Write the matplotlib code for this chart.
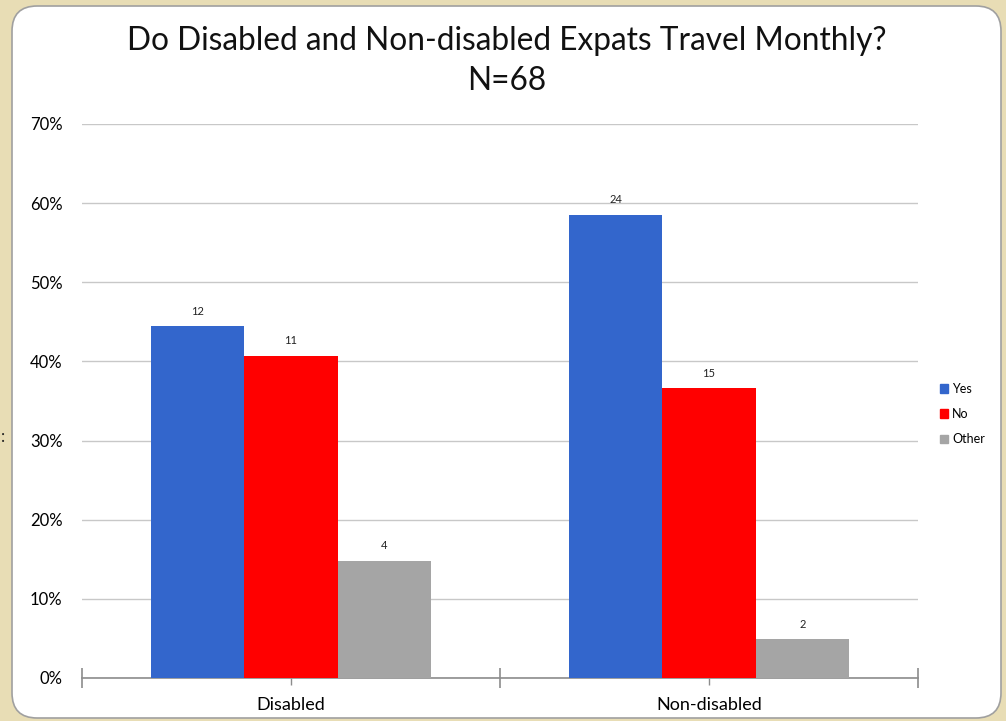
import matplotlib
matplotlib.use("Agg")
import matplotlib.pyplot as plt
from matplotlib.patches import FancyBboxPatch, Rectangle
from matplotlib.ticker import FixedLocator, FixedFormatter

plt.rcParams['font.family'] = ['Lato', 'DejaVu Sans']

groups = ["Disabled", "Non-disabled"]
series = ["Yes", "No", "Other"]
counts = {
    "Yes": [12, 24],
    "No": [11, 15],
    "Other": [4, 2],
}
group_totals = [27, 41]
colors = {"Yes": "#3366CC", "No": "#FF0000", "Other": "#A5A5A5"}
yticks = [0, 10, 20, 30, 40, 50, 60, 70]

fig = plt.figure(figsize=(10.06, 7.21), dpi=100)
fig.patch.set_facecolor("#E8DDB5")

# white rounded panel behind the chart
panel = FancyBboxPatch((12 / 1006, 3 / 721), 989 / 1006, 712 / 721,
                       boxstyle="round,pad=0,rounding_size=0.025",
                       transform=fig.transFigure, facecolor="white",
                       edgecolor="#A0A0A0", linewidth=1.2, zorder=-10,
                       mutation_aspect=1006 / 721)
fig.patches.append(panel)

ax = fig.add_axes([82 / 1006, 1 - 678 / 721, 836 / 1006, 554 / 721])
ax.set_facecolor("none")

width = 0.223
offsets = [-width, 0, width]
for s, off in zip(series, offsets):
    pct = [c / t * 100 for c, t in zip(counts[s], group_totals)]
    xs = [i + off for i in range(len(groups))]
    ax.bar(xs, pct, width=width, color=colors[s], zorder=3, label=s)
    for x, p, c in zip(xs, pct, counts[s]):
        ax.text(x, p + 1.2, str(c), ha="center", va="bottom", fontsize=8,
                color="#222222", zorder=4)

ax.set_xlim(-0.5, 1.5)
ax.set_ylim(0, 70)
ax.set_yticks(yticks)
ax.set_yticklabels([f"{v}%" for v in yticks], fontsize=12)
ax.tick_params(axis="y", length=0, pad=14)
ax.yaxis.grid(True, color="#C8C8C8", linewidth=1, zorder=0)

ax.xaxis.set_major_locator(FixedLocator([-0.5, 0.5, 1.5]))
ax.xaxis.set_minor_locator(FixedLocator([0, 1]))
ax.set_xticklabels([])
ax.xaxis.set_minor_formatter(FixedFormatter(groups))
ax.tick_params(axis="x", which="major", direction="inout", length=14,
               color="#8C8C8C", width=1.2)
ax.tick_params(axis="x", which="minor", direction="out", length=5,
               color="#8C8C8C", width=1, labelsize=13, pad=9)

for side in ["top", "right", "left"]:
    ax.spines[side].set_visible(False)
ax.spines["bottom"].set_color("#8C8C8C")
ax.spines["bottom"].set_linewidth(1.2)
ax.spines["bottom"].set_zorder(2)

fig.text(507 / 1006, 1 - 41 / 721,
         "Do Disabled and Non-disabled Expats Travel Monthly?",
         ha="center", va="center", fontsize=22.8, color="#111111")
fig.text(507 / 1006, 1 - 81 / 721, "N=68", ha="center", va="center",
         fontsize=22.8, color="#111111")

handles = [Rectangle((0, 0), 1, 1, color=colors[s]) for s in series]
fig.legend(handles, series, loc="center left",
           bbox_to_anchor=(929 / 1006, 1 - 414 / 721), frameon=False,
           fontsize=9, handlelength=0.65, handleheight=0.65,
           handletextpad=0.3, labelspacing=1.05)

fig.text(1 / 1006, 1 - 437 / 721, ":", ha="left", va="center", fontsize=12,
         color="#222222")

fig.savefig("out.png", dpi=100, facecolor=fig.get_facecolor())
